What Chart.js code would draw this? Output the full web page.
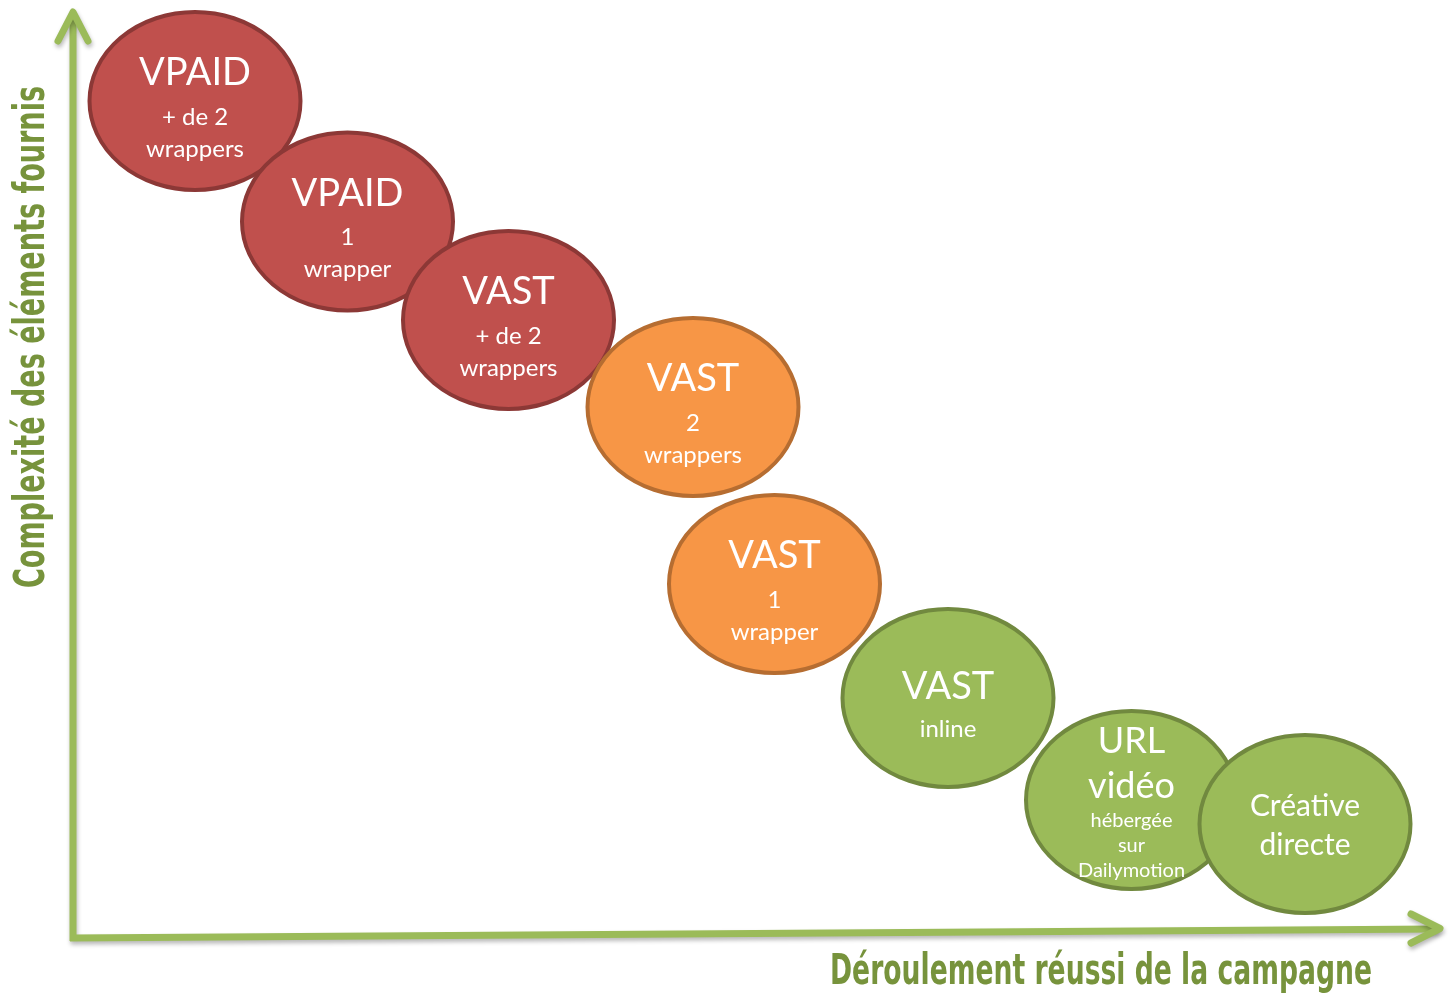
<!DOCTYPE html>
<html>
<head>
<meta charset="utf-8">
<script src="https://cdn.jsdelivr.net/npm/chart.js@4.4.0/dist/chart.umd.min.js"></script>
<style>
  body { margin: 0; background: #fff; }
  #wrap { width: 1450px; height: 994px; }
</style>
</head>
<body>
<div id="wrap"><canvas id="vastChart"></canvas></div>
<script>
// DATA
const titles = [['VPAID'], ['VPAID'], ['VAST'], ['VAST'], ['VAST'], ['VAST'], ['URL', 'vidéo'], ['Créative', 'directe']];
const details = [['+ de 2', 'wrappers'], ['1', 'wrapper'], ['+ de 2', 'wrappers'], ['2', 'wrappers'], ['1', 'wrapper'], ['inline'], ['hébergée', 'sur', 'Dailymotion'], []];
const levels = ['high', 'high', 'high', 'mid', 'mid', 'low', 'low', 'low'];
const success = [19.5, 34.75, 50.85, 69.3, 77.45, 94.8, 113.15, 130.5];
const complexity = [89.3, 77.25, 67.4, 58.7, 41.0, 29.6, 19.4, 17.0];
const xAxisTitle = 'Déroulement réussi de la campagne';
const yAxisTitle = 'Complexité des éléments fournis';

// STYLES
const fills = { high: '#C0504D', mid: '#F79646', low: '#9BBB59' };
const strokes = { high: '#8C3836', mid: '#B66D31', low: '#71893F' };
const radiusX = 10.55, radiusY = 8.9;
const textFont = 'Lato, "Open Sans", sans-serif';
const textStyle = [
    { t: 38, s: 24, tt: 45, ts: 44, ss: 32, dy: 10 },
    { t: 38, s: 24, tt: 45, ts: 44, ss: 32, dy: 10 },
    { t: 38, s: 24, tt: 45, ts: 44, ss: 32, dy: 10 },
    { t: 38, s: 24, tt: 45, ts: 44, ss: 32, dy: 10 },
    { t: 38, s: 24, tt: 45, ts: 44, ss: 32, dy: 10 },
    { t: 38, s: 24, tt: 45, ts: 43, ss: 32, dy: 10 },
    { t: 36, s: 20, tt: 45, ts: 35, ss: 25, dy: 6 },
    { t: 30, s: 24, tt: 39, ts: 40, ss: 32, dy: 2 },
];
const axisGreen = '#9BBB59';
const labelGreen = '#77933C';
const labelFont = '"Liberation Sans Narrow", "DejaVu Sans Condensed", "Roboto", sans-serif';

// squeeze a label to a given width
function fitText(ctx, text, width) {
    const w = ctx.measureText(text).width;
    ctx.scale(width / w, 1);
    ctx.fillText(text, 0, 0);
}

const ellipsePlugin = {
    id: 'ellipses',
    afterDatasetsDraw(chart) {
        const ctx = chart.ctx;
        const sx = chart.scales.x, sy = chart.scales.y;
        const area = chart.chartArea;

        // axes with arrows
        ctx.save();
        ctx.strokeStyle = axisGreen;
        ctx.lineWidth = 7;
        ctx.shadowColor = 'rgba(0,0,0,0.28)';
        ctx.shadowBlur = 4;
        ctx.shadowOffsetX = 1;
        ctx.shadowOffsetY = 3;
        const ox = area.left + 73, oy = area.top + 938;
        ctx.lineCap = 'butt';
        ctx.beginPath();
        ctx.moveTo(ox, oy + 3);
        ctx.lineTo(ox, area.top + 14);
        ctx.moveTo(ox - 3, oy);
        ctx.lineTo(area.left + 1438, area.top + 929);
        ctx.stroke();
        ctx.lineCap = 'round';
        ctx.lineJoin = 'round';
        ctx.beginPath();
        ctx.moveTo(ox - 15, area.top + 41);
        ctx.lineTo(ox, area.top + 12);
        ctx.lineTo(ox + 15, area.top + 41);
        ctx.moveTo(area.left + 1411, area.top + 914);
        ctx.lineTo(area.left + 1440, area.top + 928.5);
        ctx.lineTo(area.left + 1411, area.top + 943);
        ctx.stroke();
        ctx.restore();

        // axis titles
        ctx.save();
        ctx.fillStyle = labelGreen;
        ctx.font = 'bold 42px ' + labelFont;
        ctx.textAlign = 'center';
        ctx.textBaseline = 'alphabetic';
        ctx.save();
        ctx.translate(area.left + 1101, area.top + 984);
        fitText(ctx, xAxisTitle, 542);
        ctx.restore();
        ctx.save();
        ctx.translate(area.left + 44, area.top + 337);
        ctx.rotate(-Math.PI / 2);
        fitText(ctx, yAxisTitle, 502);
        ctx.restore();
        ctx.restore();

        // ellipses and their labels
        success.forEach((v, i) => {
            const cx = sx.getPixelForValue(v);
            const cy = sy.getPixelForValue(complexity[i]);
            const rx = sx.getPixelForValue(v + radiusX) - cx;
            const ry = cy - sy.getPixelForValue(complexity[i] + radiusY);
            ctx.save();
            ctx.beginPath();
            ctx.ellipse(cx, cy, rx, ry, 0, 0, Math.PI * 2);
            ctx.fillStyle = fills[levels[i]];
            ctx.fill();
            ctx.lineWidth = 4;
            ctx.strokeStyle = strokes[levels[i]];
            ctx.stroke();

            const st = textStyle[i];
            const lines = titles[i].map(t => ({ text: t, size: st.t, kind: 't' }))
                .concat(details[i].map(t => ({ text: t, size: st.s, kind: 's' })));
            const ys = [0];
            for (let k = 1; k < lines.length; k++) {
                const a = lines[k - 1].kind, b = lines[k].kind;
                const gap = a === 't' && b === 't' ? st.tt : (a === 't' ? st.ts : st.ss);
                ys.push(ys[k - 1] + gap);
            }
            const off = cy + st.dy - ys[ys.length - 1] / 2;
            ctx.fillStyle = '#ffffff';
            ctx.textAlign = 'center';
            ctx.textBaseline = 'middle';
            lines.forEach((ln, k) => {
                ctx.font = ln.size + 'px ' + textFont;
                ctx.fillText(ln.text, cx, off + ys[k]);
            });
            ctx.restore();
        });
    }
};

const chartEl = document.getElementById('vastChart');
const vastChart = new Chart(chartEl, {
    type: 'scatter',
    data: {
        datasets: [{
            label: 'Formats',
            data: success.map((v, i) => ({ x: v, y: complexity[i] })),
            pointRadius: 0,
            pointHoverRadius: 0,
        }]
    },
    options: {
        responsive: true,
        maintainAspectRatio: false,
        animation: false,
        layout: { padding: 0 },
        scales: {
            x: { display: false, min: 0, max: 145 },
            y: { display: false, min: 0, max: 99.4 },
        },
        plugins: {
            legend: { display: false },
            tooltip: { enabled: false },
        }
    },
    plugins: [ellipsePlugin]
});
</script>
</body>
</html>
